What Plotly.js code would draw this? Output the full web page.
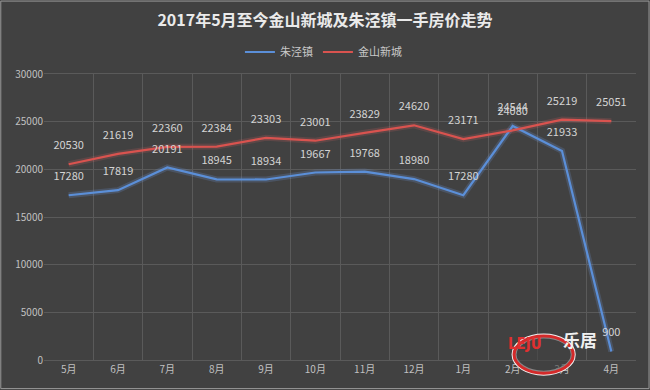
<!DOCTYPE html>
<html>
<head>
<meta charset="utf-8">
<script src="https://cdn.plot.ly/plotly-3.0.1.min.js"></script>
<style>html,body{margin:0;padding:0;background:#414141;}#chart{width:650px;height:390px;}</style>
</head>
<body>
<div id="chart"></div>
<script>
var months = ["5月","6月","7月","8月","9月","10月","11月","12月","1月","2月","3月","4月"];
var zhujing = [17280,17819,20191,18945,18934,19667,19768,18980,17280,24544,21933,900];
var jinshan = [20530,21619,22360,22384,23303,23001,23829,24620,23171,24080,25219,25051];
var yTicks = [0,5000,10000,15000,20000,25000,30000];

var blue = "#5b8fd8", red = "#d9534f";
var font = "Microsoft YaHei, Noto Sans CJK SC, sans-serif";
var lblFont = {color: "#d4d4d4", size: 11, family: font};

var traces = [
  {x: months, y: zhujing, mode: "lines", line: {color: "rgba(120,170,255,0.18)", width: 6}, showlegend: false, hoverinfo: "skip"},
  {x: months, y: jinshan, mode: "lines", line: {color: "rgba(255,110,110,0.15)", width: 6}, showlegend: false, hoverinfo: "skip"},
  {x: months, y: zhujing, name: "朱泾镇", mode: "lines", line: {color: blue, width: 2.2}},
  {x: months, y: jinshan, name: "金山新城", mode: "lines", line: {color: red, width: 2.2}},
  {x: months, y: zhujing, mode: "markers+text", text: zhujing.map(String), textposition: "top center",
   marker: {size: 18, opacity: 0}, textfont: lblFont, showlegend: false, hoverinfo: "skip"},
  {x: months, y: jinshan, mode: "markers+text", text: jinshan.map(String), textposition: "top center",
   marker: {size: 18, opacity: 0}, textfont: lblFont, showlegend: false, hoverinfo: "skip"}
];

var layout = {
  width: 650, height: 390,
  paper_bgcolor: "#414141", plot_bgcolor: "#414141",
  margin: {l: 44, r: 14, t: 74, b: 30},
  title: {text: "<b>2017年5月至今金山新城及朱泾镇一手房价走势</b>", x: 0.5, xanchor: "center", y: 0.948, yanchor: "middle",
          font: {color: "#eaeaea", size: 16, family: font}},
  showlegend: true,
  legend: {orientation: "h", x: 0.472, xanchor: "center", y: 1.077, yanchor: "middle",
           font: {color: "#c8c8c8", size: 11, family: font}, bgcolor: "rgba(0,0,0,0)"},
  xaxis: {type: "category", range: [-0.5, 11.5], tickson: "boundaries", showgrid: true, gridcolor: "#5a5a5a", gridwidth: 1,
          ticks: "", tickfont: {color: "#c0c0c0", size: 10, family: font}, showline: true, linecolor: "#5a5a5a",
          mirror: true, zeroline: false},
  yaxis: {range: [0, 30000], tickvals: yTicks, ticktext: yTicks.map(String), showgrid: true, gridcolor: "#5a5a5a",
          ticks: "", tickfont: {color: "#c0c0c0", size: 10, family: font}, zeroline: false, showline: false},
  shapes: [
    {type: "rect", xref: "paper", yref: "paper", x0: -0.073, x1: 1.022, y0: -0.1, y1: 1.255,
     line: {color: "#9a9a9a", width: 1}, fillcolor: "rgba(0,0,0,0)"},
    {type: "circle", xref: "paper", yref: "paper", x0: 0.794, x1: 0.894, y0: -0.046, y1: 0.084,
     line: {color: "#f0f0f0", width: 5}, fillcolor: "rgba(0,0,0,0)"},
    {type: "circle", xref: "paper", yref: "paper", x0: 0.794, x1: 0.894, y0: -0.046, y1: 0.084,
     line: {color: "#d42a2a", width: 3}, fillcolor: "rgba(65,65,65,0.6)"}
  ],
  annotations: [
    {xref: "paper", yref: "paper", x: 0.844, y: 0.019, text: "<b>LEJU</b>", showarrow: false,
     font: {color: "#e03030", size: 15, family: "DejaVu Sans Condensed, sans-serif"}},
    {xref: "paper", yref: "paper", x: 0.938, y: 0.022, text: "<b>乐居</b>", showarrow: false,
     font: {color: "#f0f0f0", size: 17, family: font}}
  ]
};

Plotly.newPlot("chart", traces, layout, {displayModeBar: false, staticPlot: true});
</script>
</body>
</html>
